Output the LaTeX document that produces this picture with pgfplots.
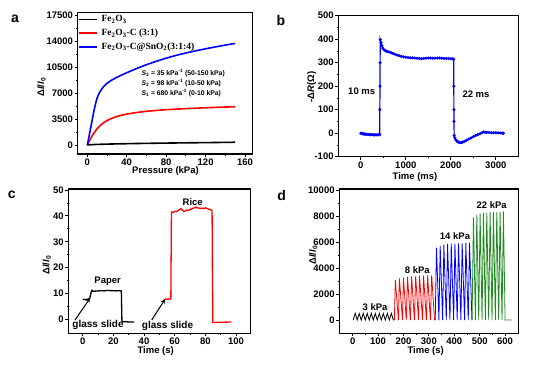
\documentclass[border=0pt]{standalone}
\usepackage{pgfplots}
\pgfplotsset{compat=1.18}
\usepackage{fontspec}
\setmainfont{Liberation Sans}
\newfontfamily\timesfont{Liberation Serif}
\definecolor{dgreen}{RGB}{30,140,30}
\pgfplotsset{
  myax/.style={
    scale only axis, anchor=south west,
    axis line style={line width=1.1pt},
    tick align=outside, tick pos=left,
    major tick length=3pt, minor tick length=1.8pt,
    every tick/.style={line width=0.9pt, black},
    minor tick num=1,
    ticklabel style={font=\fontsize{9.5}{10}\selectfont\bfseries, inner sep=1.5pt},
    /pgf/number format/assume math mode=true,
    /pgf/number format/1000 sep={},
    scaled ticks=false,
  }
}
\newcommand{\lbl}{\fontsize{9.5}{10}\selectfont\bfseries}
\begin{document}
\begin{tikzpicture}[every node/.append style={inner sep=1pt}]
\useasboundingbox (0,0) rectangle (542pt,365pt);
% ---------------- panel a
\begin{axis}[myax, at={(77.7pt,211pt)}, width=174.7pt, height=141.7pt,
  xmin=-9.7, xmax=167.4, ymin=-1220, ymax=17960,
  xtick={0,40,80,120,160}, ytick={0,3500,7000,10500,14000,17500},
  legend style={at={(rel axis cs:0,1)}, anchor=north west, draw=none, fill=none,
    inner sep=0pt, font=\timesfont\bfseries\fontsize{9.5}{10}\selectfont,
    nodes={inner sep=2.4pt, text height=7pt, text depth=2pt}, row sep=0pt},
  legend cell align=left,
  legend image code/.code={\draw[#1, line width=1.8pt] (0pt,0pt) -- (18pt,0pt);},
]
\addplot[black, line width=1.6pt] coordinates {(0,0)(5,50)(10,80)(20,120)(30,150)(40,175)(50,200)(60,220)(75,250)(90,275)(105,300)(120,320)(135,345)(150,370)};
\addlegendentry{\hspace{1.5pt}Fe\textsubscript{2}O\textsubscript{3}}
\addplot[red, line width=1.6pt] coordinates {(0,0)(1,250)(2,520)(3,780)(5,1250)(7.5,1750)(10,2200)(12.5,2550)(15,2850)(17.5,3100)(20,3300)(25,3620)(30,3860)(35,4040)(40,4180)(50,4400)(60,4560)(70,4680)(80,4780)(90,4850)(100,4920)(115,5010)(130,5090)(150,5180)};
\addlegendentry{\hspace{1.5pt}Fe\textsubscript{2}O\textsubscript{3}-C (3:1)}
\addplot[blue, line width=1.6pt] coordinates {(0,0)(1,600)(2,1300)(3,2000)(4,2700)(5,3400)(6,4100)(7,4750)(8,5350)(9,5900)(10,6350)(11,6700)(12,7000)(14,7450)(16,7800)(18,8100)(20,8350)(25,8800)(30,9150)(35,9480)(40,9780)(50,10350)(60,10870)(70,11330)(80,11750)(90,12130)(100,12450)(110,12750)(120,13020)(130,13280)(140,13520)(150,13750)};
\addlegendentry{\hspace{1.5pt}Fe\textsubscript{2}O\textsubscript{3}-C@SnO\textsubscript{2}(3:1:4)}
\end{axis}
\node[font=\fontsize{14}{14}\selectfont\bfseries] at (15pt,346pt) {a};
\node[font=\lbl, rotate=90] at (41.5pt,278pt) {Δ\textit{I}/\textit{I}\textsubscript{0}};
\node[font=\lbl] at (165.5pt,193.5pt) {Pressure (kPa)};
\begin{scope}[every node/.style={anchor=west, inner sep=0pt, font=\fontsize{6.8}{7}\selectfont\bfseries}]
\node at (141.3pt,292pt) {\textit{S}\textsubscript{3} = 35 kPa\textsuperscript{-1} (50-150 kPa)};
\node at (141.3pt,282pt) {\textit{S}\textsubscript{2} = 98 kPa\textsuperscript{-1} (10-50 kPa)};
\node at (141.3pt,272pt) {\textit{S}\textsubscript{1} = 680 kPa\textsuperscript{-1} (0-10 kPa)};
\end{scope}
% ---------------- panel b
\begin{axis}[myax, at={(338.3pt,208.3pt)}, width=180pt, height=141pt,
  xmin=-500, xmax=3500, ymin=-100, ymax=500,
  xtick={0,1000,2000,3000}, ytick={-100,0,100,200,300,400,500}]
\addplot[blue, line width=1.2pt, mark=*, mark size=0.85pt] coordinates {
(0,0)(20,-1)(40,-2)(60,-3)(80,-4)(100,-4)(130,-5)(160,-5)(190,-6)(220,-6)(250,-6)(280,-7)(310,-7)(340,-7)(370,-7)(400,-6)(420,-6)
(423,100)(426,200)(429,300)(432,398)(450,385)(470,372)(490,362)(510,356)(540,352)(570,349)(600,347)(640,345)(680,342)(720,339)(760,336)(800,333)(850,330)(900,327)(950,325)(1000,323)(1050,322)(1100,321)(1150,321)(1200,320)(1250,319)(1300,318)(1350,317)(1400,318)(1450,319)(1500,320)(1550,320)(1600,319)(1650,319)(1700,320)(1750,320)(1800,319)(1850,318)(1900,318)(1950,318)(2000,317)(2040,316)(2065,315)
(2067,200)(2069,100)(2071,50)(2075,-10)(2090,-20)(2110,-28)(2140,-34)(2170,-38)(2200,-40)(2230,-40)(2260,-38)(2300,-35)(2350,-30)(2400,-25)(2450,-20)(2500,-15)(2550,-10)(2600,-6)(2650,-2)(2700,3)(2730,5)(2760,4)(2800,3)(2850,3)(2900,2)(2950,2)(3000,2)(3050,1)(3100,1)(3150,0)(3170,0)};
\end{axis}
\node[font=\fontsize{14}{14}\selectfont\bfseries] at (281pt,345pt) {b};
\node[font=\lbl, rotate=90] at (311.7pt,278pt) {-Δ\textit{R}(Ω)};
\node[font=\lbl] at (415pt,187.5pt) {Time (ms)};
\node[font=\lbl] at (361.7pt,273.3pt) {10 ms};
\node[font=\lbl] at (476pt,271pt) {22 ms};
% ---------------- panel c
\begin{axis}[myax, at={(68.3pt,31.7pt)}, width=182.4pt, height=144.3pt,
  xmin=-9.4, xmax=109.6, ymin=-5.4, ymax=50.4,
  xtick={0,20,40,60,80,100}, ytick={0,10,20,30,40,50}]
\addplot[black, line width=1.3pt] coordinates {(0,7.6)(1,7.7)(2,7.6)(3,7.8)(4,7.9)(4.5,8)(5,9)(5.5,10.5)(6,11.2)(7,10.8)(8,10.9)(10,11)(12,11.1)(14,11)(16,11.2)(18,11.1)(20,11.1)(22,11)(24,11.1)(25.2,11.0)(25.4,5)(25.6,-0.9)(27,-0.9)(30,-1)(33.5,-1)};
\addplot[red, line width=1.3pt] coordinates {(53,7.5)(54,7.8)(55,7.7)(56,7.9)(57,7.8)(57.5,8)(57.7,25)(57.9,41.5)(59,41.3)(60,41.8)(61,41.6)(62,42)(63,42.4)(64,42.8)(65,42.2)(66,41.7)(67,41.9)(68,42.3)(69,42.1)(70,42.5)(71,42.7)(72,42.9)(73,43.2)(74,43.4)(75,43.1)(76,43)(77,42.9)(78,43)(79,42.8)(80,43.1)(81,42.9)(82,42.6)(83,42.5)(84,42.2)(84.4,42)(84.6,20)(84.9,-1.2)(87,-1.2)(90,-1.1)(93,-1.1)(97,-1.0)};
\end{axis}
\node[font=\fontsize{14}{14}\selectfont\bfseries] at (11.7pt,170pt) {c};
\node[font=\lbl, rotate=90] at (46.7pt,100pt) {Δ\textit{I}/\textit{I}\textsubscript{0}};
\node[font=\lbl] at (155.7pt,13.8pt) {Time (s)};
\node[font=\lbl] at (107.7pt,83.3pt) {Paper};
\node[font=\lbl] at (192.7pt,162.7pt) {Rice};
\node[font=\fontsize{10}{10}\selectfont\bfseries] at (98pt,40pt) {glass slide};
\node[font=\fontsize{10}{10}\selectfont\bfseries] at (167.5pt,39.5pt) {glass slide};
\draw[-stealth, line width=1pt] (75pt,45pt) -- (90pt,66.7pt);
\draw[-stealth, line width=1pt] (151.7pt,45pt) -- (165pt,65.7pt);
% ---------------- panel d
\begin{axis}[myax, at={(339.3pt,31.7pt)}, width=179pt, height=144.3pt,
  xmin=-52.7, xmax=652, ymin=-1020, ymax=10080,
  xtick={0,100,200,300,400,500,600}, ytick={0,2000,4000,6000,8000,10000}]
\addplot[black, line width=0.8pt] coordinates {(2,0)(9.9,520)(17.8,0)(25.7,500)(33.6,0)(41.5,520)(49.4,0)(57.3,510)(65.2,0)(73.1,520)(81,0)(88.9,505)(96.8,0)(104.7,520)(112.6,0)(120.5,510)(128.4,0)(136.3,520)(144.2,0)(152.1,515)(160,0)(164,0)};
\addplot[red, line width=0.8pt] coordinates {(164,0)(168,3070)(180,0)(184,3200)(196,0)(200,3270)(211,0)(216,3320)(227,0)(232,3360)(243,0)(248,3390)(259,0)(263,3410)(275,0)(279,3420)(290,0)(295,3440)(306,0)(311,3460)(322,0)(325,0)};
\addplot[blue, line width=0.8pt] coordinates {(325,0)(330,5560)(339.5,0)(344.5,5700)(354,0)(359,5800)(368.5,0)(373.5,5850)(383,0)(388,5870)(397.5,0)(402.5,5880)(411.5,0)(416.5,5900)(426,0)(431,5900)(440.5,0)(445.5,5920)(455,0)(460,5940)(469.5,0)(470,0)};
\addplot[dgreen, line width=0.8pt] coordinates {(470,0)(475.5,7900)(483.1,0)(488.6,8100)(496.2,0)(501.7,8180)(509.3,0)(514.8,8220)(522.4,0)(527.9,8260)(535.5,0)(541,8280)(548.6,0)(554.1,8300)(561.7,0)(567.2,8310)(574.8,0)(580.3,8320)(587.9,0)(593.4,8360)(600,0)(627,0)};
\end{axis}
\node[font=\fontsize{14}{14}\selectfont\bfseries] at (281.7pt,170pt) {d};
\node[font=\lbl, rotate=90] at (313.3pt,110pt) {Δ\textit{I}/\textit{I}\textsubscript{0}};
\node[font=\lbl] at (425.7pt,13.5pt) {Time (s)};
\node[font=\lbl] at (375pt,58.3pt) {3 kPa};
\node[font=\lbl] at (417.3pt,95pt) {8 kPa};
\node[font=\lbl] at (455pt,129pt) {14 kPa};
\node[font=\lbl] at (491.7pt,160pt) {22 kPa};
\end{tikzpicture}
\end{document}
